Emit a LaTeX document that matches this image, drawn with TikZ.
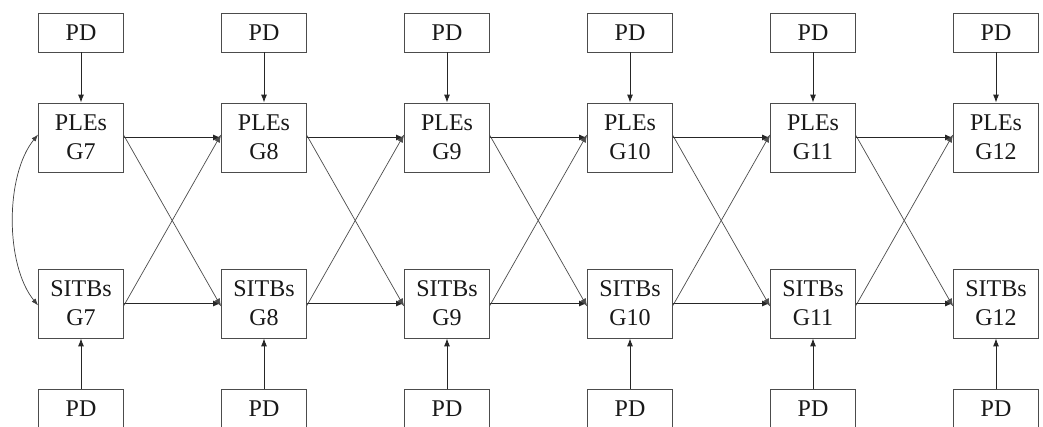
\documentclass[tikz,border=0pt]{standalone}
\usepackage{fontspec}
\setmainfont{Liberation Serif}
\usetikzlibrary{arrows.meta}
\begin{document}
\begin{tikzpicture}[x=1pt,y=-1pt,
  box/.style={draw=black!70,line width=0.8pt,minimum width=85pt,inner sep=0pt,align=center,font=\fontsize{24}{29}\selectfont,text=black!90},
  mainbox/.style={box,minimum height=69pt},
  pdbox/.style={box,minimum height=39pt},
  harrow/.style={-{Latex[length=8pt,width=6pt]},line width=1.3pt,black!85},
  varrow/.style={-{Latex[length=8pt,width=6pt]},line width=0.9pt,black!85},
  darrow/.style={-{Latex[length=8pt,width=6pt]},line width=0.7pt,black!70},
  carrow/.style={{Latex[length=7pt,width=5pt]}-{Latex[length=7pt,width=5pt]},line width=0.7pt,black!75}]
\clip (0,0) rectangle (1043,427);
\fill[white] (0,0) rectangle (1043,427);
\foreach \g/\i in {7/0,8/1,9/2,10/3,11/4,12/5}{
  \pgfmathsetmacro{\xc}{81+183*\i}
  \node[pdbox] (tp\g) at (\xc,32.5) {PD};
  \node[mainbox] (p\g) at (\xc,137.5) {PLEs\\G\g};
  \node[mainbox] (s\g) at (\xc,303.5) {SITBs\\G\g};
  \node[pdbox] (bp\g) at (\xc,408.5) {PD};
  \draw[varrow] (tp\g) -- (p\g);
  \draw[varrow] (bp\g) -- (s\g);
}
\foreach \a/\b in {7/8,8/9,9/10,10/11,11/12}{
  \draw[harrow] (p\a.east) -- (p\b.west);
  \draw[harrow] (s\a.east) -- (s\b.west);
  \draw[darrow] ([yshift=2pt]p\a.east) -- ([yshift=-3pt]s\b.west);
  \draw[darrow] ([yshift=-2pt]s\a.east) -- ([yshift=3pt]p\b.west);
}
\draw[carrow] ([yshift=3pt]p7.west) .. controls (5,175) and (5,265) .. ([yshift=-2pt]s7.west);
\end{tikzpicture}
\end{document}
